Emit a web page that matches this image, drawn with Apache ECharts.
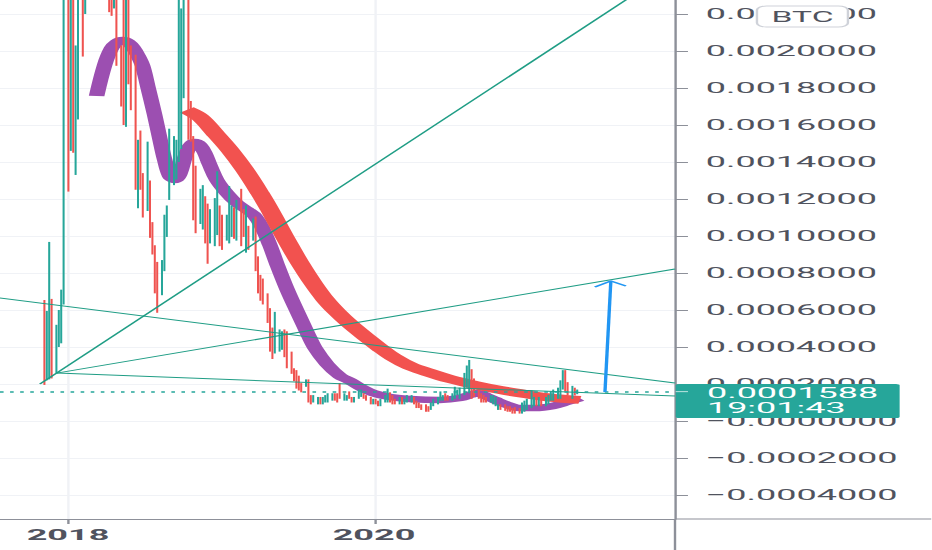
<!DOCTYPE html>
<html><head><meta charset="utf-8">
<script src="https://cdn.jsdelivr.net/npm/echarts@6/dist/echarts.min.js"></script>
<style>
html,body{margin:0;padding:0;background:#fff;overflow:hidden}
#wrap{position:absolute;left:0;top:0;width:932px;height:550px;overflow:hidden;background:#fff}
#main{position:absolute;left:0;top:0;width:388.3333px;height:550px;transform:scaleX(2.4);transform-origin:0 0}
</style></head>
<body><div id="wrap"><div id="main"></div></div>
<script>
// ---- data (prices in units of 0.0001 BTC) ----
const START_WEEK = '2017-11-06';
const UNIT = 1e-4;
const SYMBOL = 'BTC';
const LAST_PRICE = 1.588;
const COUNTDOWN = '19:01:43';
const yearTicks = [2018, 2020];
const priceTicks = [-4, -2, 0, 2, 4, 6, 8, 10, 12, 14, 16, 18, 20, 22];
// weekly candles: [open, high, low, close]
const candles = [
[6.27,6.54,1.95,2.22],[2.32,5.95,2.2,5.84],[2.38,9.68,2.25,5.6],[6.49,6.6,2.3,2.4],[2.76,5.2,2.6,5.03],
[4.22,6.0,4.0,5.89],[4.38,7.1,4.2,6.97],[6.4,26.5,6.3,24.3],[20.3,23.5,12.4,12.86],[14.9,25.3,14.6,23.3],
[22.05,23,14.5,15.0],[14.0,20.3,13.3,19.35],[16.8,26.3,16.3,24.3],[24.5,26.5,19.7,20.16],[22.2,29.4,22.0,27.4],
[27.4,29.4,23.3,24.3],[24.3,32.4,23.8,30.4],[30.4,33.4,26.3,27.4],[27.4,34.5,26.3,31.4],[31.4,32.4,26.9,28.4],
[28.4,30.4,24.3,26.3],[26.3,30.4,25.3,29.4],[29.4,30,22.1,23.0],[24.3,26.3,21.9,22.6],[22.6,27.4,22.3,25.3],
[24.7,25.5,19.2,19.7],[19.7,20.3,17.0,17.5],[18.3,23,16.0,16.7],[16.0,25.3,15.9,24.3],[23.3,24.3,18.2,19.35],
[19.8,20.3,16.8,17.5],[19.2,19.8,12.5,12.9],[12.0,15.2,11.5,14.5],[15.4,15.7,12.5,12.7],[13.1,13.4,11.0,11.25],
[11.55,15.1,11.35,14.9],[12.5,13.0,9.9,10.15],[10.65,10.75,9.0,9.1],[9.4,9.5,6.9,7.1],[8.5,8.6,5.85,6.3],
[6.99,8.7,6.8,7.8],[8.3,11.15,8.1,11.05],[10.35,11.65,9.95,11.55],[12.55,15.8,11.95,15.6],[13.4,15.4,12.75,14.7],
[13.2,15.2,13.05,15.0],[14.3,24.3,14.0,22.8],[15.2,22.3,14.7,19.25],[19.25,26.3,17.45,24.3],[25.3,27.4,15.2,15.7],
[17.2,17.3,15.1,15.2],[15.3,15.4,10.85,11.05],[13.6,13.8,10.15,10.25],[10.85,12.55,10.65,12.35],[10.95,12.75,10.35,12.45],
[11.95,12.15,9.6,10.35],[11.55,11.75,8.5,8.7],[9.85,11.45,9.6,11.25],[10.65,12.05,9.45,11.75],[10.15,13.5,10.05,13.4],
[11.35,11.65,9.45,9.85],[11.05,11.15,9.25,9.85],[9.85,11.15,9.75,11.05],[9.95,12.7,9.6,12.65],[10.15,11.65,9.95,10.85],
[11.35,11.55,9.85,10.15],[10.15,11.95,9.75,10.95],[12.35,12.55,9.45,9.65],[11.25,11.45,9.95,10.15],[9.25,11.65,9.1,11.45],
[10.35,10.55,9.25,9.45],[9.95,10.95,9.75,10.85],[10.85,11.05,8.1,8.2],[8.8,8.9,6.9,7.1],[7.7,7.9,6.5,7.1],
[7.5,7.7,6.3,6.6],[6.7,6.9,5.3,5.5],[5.9,6.1,3.75,3.95],[4.95,5.05,3.35,3.45],[3.75,5.9,3.65,5.05],
[4.15,4.95,3.75,4.75],[4.05,4.85,3.85,4.75],[4.95,4.95,3.45,3.65],[4.65,4.85,2.85,2.95],[3.65,3.75,2.55,2.65],
[2.75,2.85,2.15,2.25],[2.65,2.75,1.75,1.85],[2.25,2.45,1.65,1.85],[1.85,2.05,1.55,1.65],[1.95,2.25,1.85,2.15],
[2.15,2.25,1.0,1.1],[1.3,1.4,0.9,1.0],[1.1,1.4,1.0,1.3],[1.0,1.3,0.9,1.2],[1.2,1.3,0.9,1.0],
[1.0,1.3,0.9,1.2],[1.1,1.4,1.0,1.3],[1.1,1.5,1.0,1.4],[1.2,1.5,1.1,1.4],[1.4,1.5,1.1,1.2],
[1.3,1.5,1.0,1.2],[1.6,2.05,1.2,1.3],[1.2,1.5,1.1,1.4],[1.2,1.4,1.1,1.3],[1.5,1.6,1.2,1.3],
[1.2,1.3,1.0,1.1],[1.1,1.3,1.0,1.2],[1.3,1.7,1.2,1.5],[1.4,1.7,1.3,1.6],[1.4,1.5,1.2,1.3],
[1.3,1.4,1.1,1.2],[1.2,1.3,0.9,1.0],[1.0,1.2,0.9,1.1],[1.1,1.2,0.9,1.0],[1.0,1.1,0.8,0.9],
[0.9,1.2,0.8,1.1],[1.1,1.4,1.0,1.3],[1.1,1.75,1.0,1.5],[1.5,1.55,1.0,1.1],[1.3,1.4,0.9,1.0],
[1.1,1.2,0.9,1.0],[1.0,1.3,0.9,1.2],[1.2,1.3,0.9,1.0],[1.0,1.2,0.9,1.1],[1.1,1.4,1.0,1.3],
[1.1,1.4,1.0,1.3],[1.2,1.3,0.9,1.0],[1.0,1.1,0.7,0.8],[0.9,1.0,0.7,0.8],[0.8,0.9,0.6,0.7],
[0.8,0.9,0.5,0.6],[0.7,0.8,0.5,0.6],[0.7,1.0,0.6,0.9],[0.9,1.2,0.8,1.1],[1.0,1.3,0.9,1.1],
[1.2,1.6,1.1,1.4],[1.2,1.4,1.1,1.3],[1.4,1.5,1.1,1.2],[1.3,1.4,1.1,1.2],[1.2,1.5,1.1,1.4],
[1.3,1.85,1.2,1.6],[1.5,1.7,1.4,1.6],[1.3,1.8,1.2,1.7],[1.5,2.6,1.4,2.2],[1.9,3.0,1.8,2.6],
[1.6,3.3,1.5,2.6],[2.7,2.8,1.2,1.3],[2.0,2.3,1.3,1.5],[1.6,1.7,1.2,1.3],[1.4,1.5,1.0,1.1],
[1.3,1.4,1.0,1.1],[1.2,1.3,1.0,1.1],[1.1,1.4,1.0,1.3],[1.1,1.4,0.9,1.3],[1.0,1.3,0.8,1.2],
[0.7,0.9,0.6,0.8],[0.8,0.9,0.6,0.7],[0.8,0.9,0.55,0.6],[0.7,0.8,0.5,0.6],[0.7,0.8,0.5,0.55],
[0.6,0.7,0.4,0.5],[0.65,0.75,0.4,0.45],[0.6,0.7,0.4,0.45],[0.45,1.0,0.4,0.8],[0.6,1.1,0.5,0.9],
[0.7,1.2,0.6,1.0],[0.8,1.65,0.7,1.3],[0.9,1.3,0.8,1.1],[1.1,1.3,0.8,0.9],[0.9,1.3,0.8,1.1],
[1.1,1.2,0.8,0.9],[0.9,1.3,0.8,1.2],[1.0,1.4,0.9,1.3],[1.2,1.6,1.1,1.4],[1.3,1.7,1.1,1.5],
[1.3,1.8,1.2,1.6],[1.4,2.2,1.2,2.0],[1.8,2.75,1.7,2.6],[2.6,2.75,1.6,1.7],[2.0,2.1,1.4,1.5],
[1.3,1.9,1.2,1.7],[1.7,1.8,1.4,1.5],[1.5,1.7,1.45,1.588]
];
// moving averages: [week position, value]
const purpleMA = [[17.75,17.57],[20.48,19.24],[22.87,20.16],[24.91,20.49],[26.62,20.59],[28.33,20.49],[30.03,20.22],
[31.74,19.78],[33.45,19.19],[35.15,18.11],[37.54,16.54],[39.25,15.30],[40.96,14.11],[42.66,13.24],[44.37,13.03],
[46.08,13.35],[47.78,14.22],[49.49,14.86],[51.19,15.08],[52.9,14.92],[54.61,14.49],[56.31,13.84],[58.7,13.03],
[62.12,12.32],[65.53,11.78],[68.94,11.41],[71.67,11.08],[74.06,10.49],[76.79,9.51],[79.18,8.49],[82.59,7.14],
[86.01,5.95],[89.42,4.81],[92.15,3.95],[96.25,3.08],[100.68,2.43],[104.1,2.16],[107.51,1.84],[111.95,1.51],
[117.75,1.30],[124.57,1.19],[134.81,1.14],[141.64,1.24],[145.05,1.41],[147.78,1.51],[150.51,1.35],[153.58,1.14],
[157.0,0.92],[162.12,0.70],[167.24,0.70],[173.38,0.81],[178.16,1.03],[182.59,1.24]];
const redMA = [[48.46,16.81],[52.9,16.43],[58.02,15.57],[63.14,14.65],[68.26,13.57],[73.38,12.32],[76.79,11.41],
[80.2,10.43],[83.62,9.46],[87.03,8.54],[91.47,7.46],[95.56,6.59],[99.66,5.89],[104.1,5.24],[109.9,4.49],
[114.33,3.95],[118.77,3.46],[124.57,2.97],[130.38,2.65],[138.23,2.27],[146.76,1.95],[155.29,1.68],[163.82,1.46],
[172.35,1.27],[182.59,1.14]];
// drawn trend lines: [date, value] end points
const trendLines = [
  [['2017-10-26', 2.0], ['2021-12-20', 24.5]],
  [['2017-12-05', 2.59], ['2021-12-20', 8.22]],
  [['2017-12-05', 2.59], ['2021-12-20', 1.35]],
  [['2017-07-22', 6.65], ['2021-12-20', 2.05]]
];
const arrowShaft = [['2021-07-06', 1.57], ['2021-07-20', 7.57]];
const arrowHead = [['2021-06-12', 7.24], ['2021-07-20', 7.57], ['2021-08-25', 7.30]];

// ---- layout constants ----
const X_MIN = 2017.5556, X_MAX = 2021.9673;
const Y_MIN = -5.297, Y_MAX = 22.757;
const W0 = 932 / 2.4;
const GRID_RIGHT = (932 - 675) / 2.4;
const UP = '#26a69a', DOWN = '#ef5350', LINE = '#1f9d85', AXIS = '#8d9099', TXT = '#50535e';
const FONT = 'Roboto, "Noto Sans", sans-serif';

function yearFrac(ms) {
  const d = new Date(ms); const y = d.getUTCFullYear();
  const s = Date.UTC(y, 0, 1), e = Date.UTC(y + 1, 0, 1);
  return y + (ms - s) / (e - s);
}
function parseDay(str) { const p = str.split('-').map(Number); return Date.UTC(p[0], p[1] - 1, p[2]); }
const WEEK = 7 * 86400000;
const t0 = parseDay(START_WEEK);
const weekX = i => yearFrac(t0 + i * WEEK);
const dateX = s => yearFrac(parseDay(s));

const candleData = candles.map((c, i) => [weekX(i), c[0], c[3], c[2], c[1]]);
const maData = arr => arr.map(p => [weekX(p[0]), p[1]]);
const ptData = arr => arr.map(p => [dateX(p[0]), p[1]]);

function fmtPrice(v) {
  if (v <= 0) return '\u2212' + (Math.abs(v) * UNIT).toFixed(7);
  return (v * UNIT).toFixed(7);
}

const chart = echarts.init(document.getElementById('main'), null, { renderer: 'svg', width: W0, height: 550 });

const series = [
  { type: 'line', data: maData(purpleMA), smooth: 0.35, showSymbol: false, silent: true, z: 2,
    lineStyle: { color: '#9c4fb1', width: 6.5, cap: 'butt', join: 'round' } },
  { type: 'line', data: maData(redMA), smooth: 0.35, showSymbol: false, silent: true, z: 2,
    lineStyle: { color: '#f2524f', width: 8, cap: 'butt', join: 'round' } },
  { type: 'candlestick', data: candleData, encode: { x: 0, y: [1, 2, 3, 4] }, barWidth: 0.6, z: 3, silent: true,
    itemStyle: { color: UP, color0: DOWN, borderColor: UP, borderColor0: DOWN, borderWidth: 0.85 },
    markLine: { silent: true, symbol: ['none', 'none'], label: { show: false },
      lineStyle: { color: UP, width: 1.6, type: [1.5, 2.7] }, data: [{ yAxis: LAST_PRICE }] } }
];
trendLines.forEach(tl => series.push({ type: 'line', data: ptData(tl), showSymbol: false, silent: true, z: 4,
  lineStyle: { color: LINE, width: 1 } }));
series.push({ type: 'line', data: ptData(arrowShaft), showSymbol: false, silent: true, z: 5,
  lineStyle: { color: '#2196f3', width: 1.4 } });
series.push({ type: 'line', data: ptData(arrowHead), showSymbol: false, silent: true, z: 5,
  lineStyle: { color: '#2196f3', width: 1.2 } });

chart.setOption({
  animation: false,
  backgroundColor: '#ffffff',
  grid: { left: 0, top: 0, right: GRID_RIGHT, bottom: 31, containLabel: false, outerBoundsMode: 'none' },
  xAxis: {
    type: 'value', min: X_MIN, max: X_MAX,
    axisLine: { show: true, onZero: false, lineStyle: { color: AXIS, width: 1 } },
    axisTick: { show: true, customValues: yearTicks, length: 5, lineStyle: { color: AXIS } },
    axisLabel: { customValues: yearTicks, formatter: v => String(Math.round(v)), margin: 8,
      color: TXT, fontFamily: FONT, fontSize: 15, fontWeight: 'bold' },
    splitLine: { show: true, lineStyle: { color: '#f0f2f6', width: 1 } }
  },
  yAxis: {
    type: 'value', position: 'right', min: Y_MIN, max: Y_MAX,
    axisLine: { show: true, onZero: false, lineStyle: { color: AXIS, width: 1 } },
    axisTick: { show: true, customValues: priceTicks, length: 5.4, lineStyle: { color: AXIS } },
    axisLabel: { customValues: priceTicks, formatter: fmtPrice, margin: 12.8,
      color: TXT, fontFamily: FONT, fontSize: 15 },
    splitLine: { show: true, lineStyle: { color: '#f0f2f6', width: 1 } }
  },
  series: series
});

const py = chart.convertToPixel({ yAxisIndex: 0 }, LAST_PRICE);
const axX = chart.convertToPixel({ xAxisIndex: 0 }, X_MAX);
const axY = chart.convertToPixel({ yAxisIndex: 0 }, Y_MIN);
chart.setOption({
  graphic: [
    { type: 'line', z: 50, shape: { x1: axX, y1: axY, x2: W0, y2: axY }, style: { stroke: AXIS, lineWidth: 1 } },
    { type: 'line', z: 50, shape: { x1: axX, y1: axY, x2: axX, y2: 550 }, style: { stroke: AXIS, lineWidth: 1 } },
    { type: 'rect', z: 100, shape: { x: 315.4, y: 6, width: 37.9, height: 21, r: 4 },
      style: { fill: '#ffffff', stroke: '#cfd2d9', lineWidth: 1 } },
    { type: 'text', z: 101, x: 334.4, y: 16.8,
      style: { text: SYMBOL, fill: TXT, font: '14px ' + FONT, align: 'center', verticalAlign: 'middle' } },
    { type: 'rect', z: 100, shape: { x: axX + 0.3, y: py - 7.6, width: 93.3, height: 34, r: 1.5 },
      style: { fill: UP } },
    { type: 'line', z: 101, shape: { x1: axX + 0.3, y1: py, x2: axX + 5.4, y2: py },
      style: { stroke: 'rgba(255,255,255,0.7)', lineWidth: 1 } },
    { type: 'text', z: 101, x: axX + 13.3, y: py + 1.6,
      style: { text: (LAST_PRICE * UNIT).toFixed(7), fill: '#ffffff', font: '15px ' + FONT, align: 'left', verticalAlign: 'middle' } },
    { type: 'text', z: 101, x: axX + 13.3, y: py + 16.6,
      style: { text: COUNTDOWN, fill: '#ffffff', font: '15px ' + FONT, align: 'left', verticalAlign: 'middle' } }
  ]
});
</script>
</body></html>
